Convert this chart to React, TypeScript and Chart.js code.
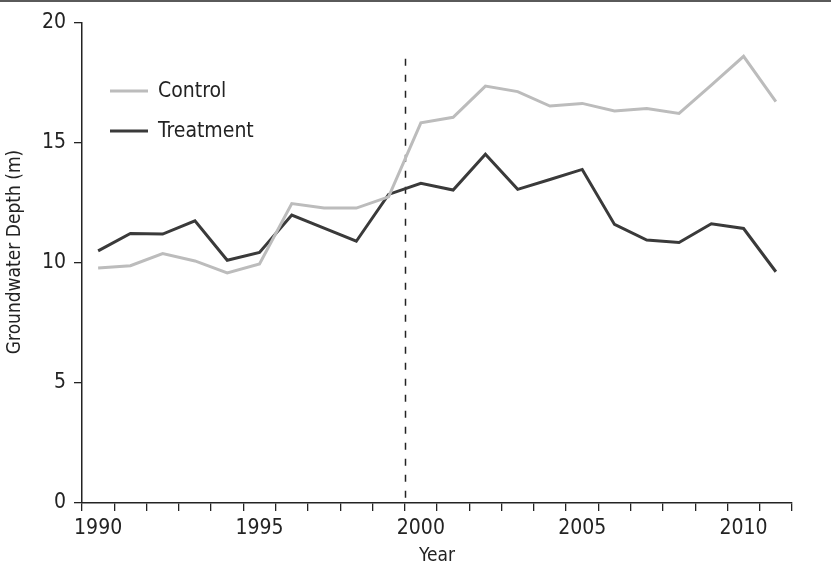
import React, { useEffect, useRef } from "react";
import { Chart, registerables } from "chart.js";

Chart.register(...registerables);

const YEARS = [
  "1990", "1991", "1992", "1993", "1994", "1995", "1996", "1997", "1998", "1999", "2000",
  "2001", "2002", "2003", "2004", "2005", "2006", "2007", "2008", "2009", "2010", "2011",
];
const CONTROL = [
  9.79, 9.88, 10.39, 10.08, 9.58, 9.95, 12.47, 12.28, 12.28, 12.75, 15.83,
  16.06, 17.36, 17.13, 16.53, 16.64, 16.32, 16.43, 16.22, 17.4, 18.6, 16.71,
];
const TREATMENT = [
  10.5, 11.22, 11.2, 11.75, 10.11, 10.43, 11.99, 11.45, 10.9, 12.85, 13.31,
  13.03, 14.52, 13.06, 13.47, 13.89, 11.6, 10.95, 10.85, 11.63, 11.43, 9.63,
];
const SERIES_LABELS = ["Control", "Treatment"];
const Y_TICKS = [0, 5, 10, 15, 20];
const Y_TITLE = "Groundwater Depth (m)";
const X_TITLE = "Year";
const INTERVENTION_POS = 9.5; // boundary between 1999 and 2000
const INTERVENTION_TOP = 18.5;

const FONT = '"Liberation Sans Narrow", "DejaVu Sans Condensed", "Roboto", sans-serif';
const INK = "#232323";
const GREY = "#bcbcbc";
const DARK = "#3a3a3a";

const overlay = {
  id: "overlay",
  beforeDraw(chart: any) {
    const { ctx } = chart;
    ctx.save();
    ctx.fillStyle = "#5a5a5a";
    ctx.fillRect(0, 0, chart.width, 2);
    ctx.restore();
  },
  beforeDatasetsDraw(chart: any) {
    const { ctx, scales } = chart;
    const x = scales.x;
    const y = scales.y;
    const xp = Math.round(x.getPixelForValue(INTERVENTION_POS)) + 0.5;
    ctx.save();
    ctx.strokeStyle = INK;
    ctx.lineWidth = 1.5;
    ctx.setLineDash([7, 9]);
    ctx.beginPath();
    ctx.moveTo(xp, y.getPixelForValue(INTERVENTION_TOP));
    ctx.lineTo(xp, y.getPixelForValue(0));
    ctx.stroke();
    ctx.restore();
  },
  afterDatasetsDraw(chart: any) {
    const { ctx } = chart;
    const ds = chart.data.datasets;
    ctx.save();
    ctx.font = `21px ${FONT}`;
    ctx.textBaseline = "middle";
    ctx.textAlign = "left";
    ds.forEach((d: any, i: number) => {
      const yy = 91 + i * 40;
      ctx.strokeStyle = d.borderColor;
      ctx.lineWidth = 3;
      ctx.beginPath();
      ctx.moveTo(110, yy);
      ctx.lineTo(148, yy);
      ctx.stroke();
      ctx.fillStyle = INK;
      ctx.fillText(d.label, 158, yy + 1);
    });
    // y-axis title
    ctx.font = `19px ${FONT}`;
    ctx.textAlign = "center";
    ctx.translate(15, 252);
    ctx.rotate(-Math.PI / 2);
    ctx.fillText(Y_TITLE, 0, 0);
    ctx.restore();
  },
};

export default function App() {
  const ref = useRef<HTMLCanvasElement | null>(null);

  useEffect(() => {
    if (!ref.current) return;
    const chart = new Chart(ref.current, {
      type: "line",
      data: {
        labels: YEARS,
        datasets: [
          {
            label: SERIES_LABELS[0],
            data: CONTROL,
            borderColor: GREY,
            borderWidth: 3,
            pointRadius: 0,
            tension: 0,
            fill: false,
          },
          {
            label: SERIES_LABELS[1],
            data: TREATMENT,
            borderColor: DARK,
            borderWidth: 3,
            pointRadius: 0,
            tension: 0,
            fill: false,
          },
        ],
      },
      options: {
        responsive: false,
        animation: false,
        devicePixelRatio: 1,
        layout: { padding: { top: 22.7, right: 39, left: 0, bottom: 0 } },
        plugins: {
          legend: { display: false },
          tooltip: { enabled: false },
        },
        scales: {
          x: {
            type: "category",
            offset: true,
            afterFit: (s: any) => {
              s.height = 74;
            },
            border: { display: true, color: INK, width: 1.5 },
            grid: {
              offset: true,
              drawOnChartArea: false,
              drawTicks: true,
              tickLength: 8,
              color: INK,
              lineWidth: 1.3,
            },
            ticks: {
              autoSkip: false,
              maxRotation: 0,
              minRotation: 0,
              padding: 5,
              color: INK,
              font: { family: FONT, size: 21 },
              callback: (_v: any, i: number) =>
                Number(YEARS[i]) % 5 === 0 ? YEARS[i] : "",
            },
            title: {
              display: true,
              text: X_TITLE,
              color: INK,
              font: { family: FONT, size: 19 },
              padding: { top: 0, bottom: 10 },
            },
          },
          y: {
            min: 0,
            max: 20,
            afterFit: (s: any) => {
              s.width = 82;
            },
            afterBuildTicks: (s: any) => {
              s.ticks = Y_TICKS.map((v) => ({ value: v }));
            },
            border: { display: true, color: INK, width: 1.5 },
            grid: {
              drawOnChartArea: false,
              drawTicks: true,
              tickLength: 8,
              color: INK,
              lineWidth: 1.3,
            },
            ticks: {
              padding: 8,
              color: INK,
              font: { family: FONT, size: 21 },
            },
            title: { display: false },
          },
        },
      },
      plugins: [overlay],
    });
    return () => chart.destroy();
  }, []);

  return (
    <div style={{ position: "fixed", left: 0, top: 0, width: 831, height: 577, background: "#fff" }}>
      <canvas ref={ref} width={831} height={577} style={{ display: "block" }} />
    </div>
  );
}
